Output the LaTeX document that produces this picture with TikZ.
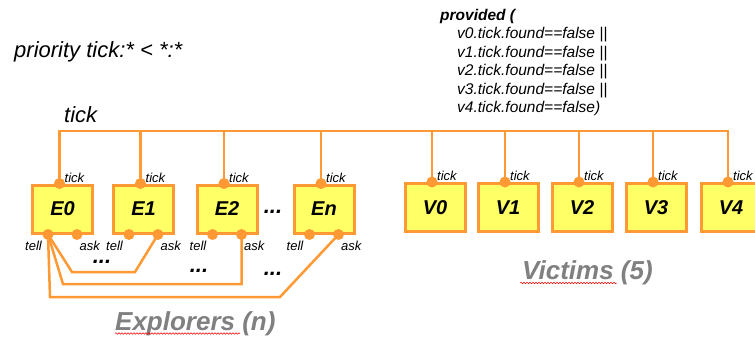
\documentclass[tikz,border=0pt]{standalone}
\usepackage{fontspec}
\setmainfont{Liberation Sans}
\usetikzlibrary{decorations.pathmorphing}
\definecolor{org}{RGB}{255,153,51}
\definecolor{ylw}{RGB}{255,255,102}
\definecolor{gry}{RGB}{128,128,128}
\pgfdeclarelayer{bg}
\pgfsetlayers{bg,main}
\begin{document}
\begin{tikzpicture}[x=1pt,y=-1pt,
  box/.style={draw=org, line width=3pt, fill=ylw, minimum width=60pt, minimum height=48pt, inner sep=0pt,
              font=\fontsize{20}{24}\selectfont\bfseries\itshape},
  port/.style={circle, fill=org, inner sep=0pt, minimum size=11pt},
  wire/.style={draw=org, line width=2.5pt},
  plab/.style={inner sep=0pt, font=\fontsize{13}{15}\selectfont\itshape},
  cond/.style={inner sep=0pt, anchor=base west, font=\fontsize{15.5}{18}\selectfont\itshape},
  big/.style={inner sep=0pt, anchor=base west, font=\fontsize{22}{24}\selectfont\itshape},
  grp/.style={inner sep=0pt, anchor=base west, text=gry, font=\fontsize{26}{30}\selectfont\bfseries\itshape},
  dotsn/.style={inner sep=0pt, font=\fontsize{22}{22}\selectfont\bfseries\itshape},
  spell/.style={red, line width=0.5pt, decorate, decoration={snake, amplitude=0.8pt, segment length=3pt}}
]
\useasboundingbox (0,0) rectangle (755,340);

% texts
\node[big] (prio) at (14,57) {priority tick:* < *:*};
\node[big] (ticklab) at (64,122) {tick};
\node[cond, font=\fontsize{15.5}{18}\selectfont\bfseries\itshape] (c0) at (440,20) {provided (};
\node[cond] (c1) at (457,38.5) {v0.tick.found==false ||};
\node[cond] (c2) at (457,57) {v1.tick.found==false ||};
\node[cond] (c3) at (457,75.5) {v2.tick.found==false ||};
\node[cond] (c4) at (457,94) {v3.tick.found==false ||};
\node[cond] (c5) at (457,112.5) {v4.tick.found==false)};

% explorers
\foreach \n/\x in {E0/62.5, E1/143.5, E2/227, En/324} {
  \node[box] (\n) at (\x,209) {\n};
  \node[port] (\n-t) at ([xshift=-3pt]\n.north) {};
  \node[port] (\n-l) at ([xshift=-14.5pt]\n.south) {};
  \node[port] (\n-a) at ([xshift=14.5pt]\n.south) {};
  \node[plab, anchor=base west] (\n-tl) at ([xshift=5pt,yshift=1pt]\n-t.center) {tick};
  \node[plab, anchor=base east] (\n-ll) at ([xshift=-6pt,yshift=-16pt]\n-l.center) {tell};
  \node[plab, anchor=base west] (\n-al) at ([xshift=2.5pt,yshift=-16pt]\n-a.center) {ask};
}
% victims
\foreach \n/\x in {V0/435, V1/508, V2/582, V3/656, V4/731} {
  \node[box] (\n) at (\x,207.5) {\n};
  \node[port] (\n-t) at ([xshift=-3pt]\n.north) {};
  \node[plab, anchor=base west] (\n-tl) at ([xshift=5pt,yshift=2pt]\n-t.center) {tick};
}

% dots
\node[dotsn] (d0) at (273,212) {...};
\node[dotsn] (d1) at (102,262) {...};
\node[dotsn] (d2) at (199,271) {...};
\node[dotsn] (d3) at (273,274) {...};

% group labels
\node[grp] (expl) at (115,330) {Explorers (n)};
\node[grp] (vict) at (522,279) {Victims (5)};
\draw[spell] (115,333.5) -- (240,333.5);
\draw[spell] (520,283) -- (617,283);

% wires
\coordinate (bus) at (0,131);
\coordinate (w1a) at (72,272);
\coordinate (w1b) at (135,272);
\coordinate (w2a) at (63,284);
\coordinate (w3a) at (50,297);
\coordinate (w3b) at (280,297);
\begin{pgfonlayer}{bg}
  \draw[wire] (E0-t.center) -- (E0-t.center |- bus) -- (V4-t.center |- bus) -- (V4-t.center);
  \foreach \n in {E1,E2,En,V0,V1,V2,V3} {
    \draw[wire] (\n-t.center) -- (\n-t.center |- bus);
  }
  \draw[wire] (E0-l.center) -- (w1a) -- (w1b) -- (E1-a.center);
  \draw[wire] (E0-l.center) -- (w2a) -- (w2a -| E2-a.center) -- (E2-a.center);
  \draw[wire] (E0-l.center) -- (w3a) -- (w3b) -- (En-a.center);
\end{pgfonlayer}
\end{tikzpicture}
\end{document}
